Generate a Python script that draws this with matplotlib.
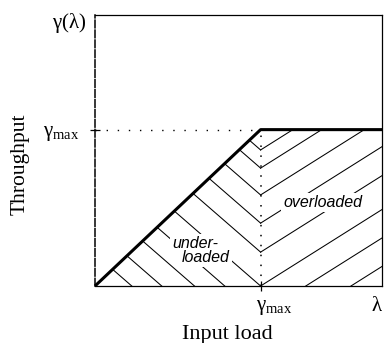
import matplotlib
matplotlib.use('Agg')
import matplotlib.pyplot as plt
from matplotlib.transforms import ScaledTranslation

plt.rcParams['font.family'] = ['Liberation Serif', 'DejaVu Serif']
plt.rcParams['mathtext.fontset'] = 'custom'
plt.rcParams['mathtext.rm'] = 'Liberation Serif'
plt.rcParams['mathtext.it'] = 'Liberation Serif'

# Saturation point of the throughput curve (same value on both axes)
gamma_max = 0.577

# Throughput vs input load
load = [0.0, gamma_max, 1.0]
throughput = [0.0, gamma_max, gamma_max]

# Hatch lines meet the gamma_max line at these heights (negative -> start on the x axis)
under_offsets = [-0.413, -0.317, -0.212, -0.115, 0.0, 0.125, 0.232, 0.336, 0.435, 0.502]
over_offsets = [-0.21, -0.105, 0.0, 0.125, 0.232, 0.336, 0.435, 0.502]
under_slope = 0.92
over_slope = 0.667

fig = plt.figure(figsize=(3.84, 3.43), dpi=100)
ax = fig.add_axes([95 / 384, 57 / 343, 287 / 384, 271 / 343])
ax.set_xlim(0, 1)
ax.set_ylim(0, 1)

# Underloaded region: "\" lines between the diagonal and the gamma_max line / x axis
for v in under_offsets:
    xs = (v + under_slope * gamma_max) / (1 + under_slope)
    if v >= 0:
        xe, ye = gamma_max, v
    else:
        xe, ye = gamma_max + v / under_slope, 0.0
    ax.plot([xs, xe], [xs, ye], color='black', lw=0.75, zorder=1)

# Overloaded region: "/" lines from the gamma_max line / x axis to the top or right edge
for v in over_offsets:
    if v >= 0:
        xs, ys = gamma_max, v
    else:
        xs, ys = gamma_max - v / over_slope, 0.0
    xe = gamma_max + (gamma_max - v) / over_slope
    if xe <= 1.0:
        ye = gamma_max
    else:
        xe, ye = 1.0, v + over_slope * (1.0 - gamma_max)
    ax.plot([xs, xe], [ys, ye], color='black', lw=0.75, zorder=1)

# Reference lines at gamma_max
ax.plot([0, gamma_max], [gamma_max, gamma_max], color='black', lw=1.0,
        ls=(0, (1, 7)), zorder=2)
ax.plot([gamma_max, gamma_max], [0, gamma_max], color='black', lw=1.1,
        ls=(0, (1, 5.5)), zorder=2)

# Throughput curve
ax.plot(load, throughput, color='black', lw=2.2, zorder=4, clip_on=False,
        solid_capstyle='butt')

box = dict(boxstyle='square,pad=0.15', facecolor='white', edgecolor='none')
ax.text(0.793, 0.2915, 'overloaded', family='Liberation Sans', style='italic',
        fontsize=11.5, ha='center', va='baseline', bbox=box, zorder=3)
ax.text(0.268, 0.140, 'under-', family='Liberation Sans', style='italic',
        fontsize=11.5, ha='left', va='baseline', bbox=box, zorder=3)
ax.text(0.303, 0.0886, 'loaded', family='Liberation Sans', style='italic',
        fontsize=11.5, ha='left', va='baseline', bbox=box, zorder=3)

# Axes frame
for side in ['top', 'right', 'bottom', 'left']:
    ax.spines[side].set_linewidth(0.9)
ax.spines['left'].set_linewidth(1.1)
ax.spines['left'].set_linestyle((0, (5, 1.5)))

gm_label = r'$\gamma_{\mathrm{max}}$'
ax.set_xticks([gamma_max], labels=[gm_label])
ax.set_yticks([gamma_max], labels=[gm_label])
ax.tick_params(direction='inout', length=7, width=0.9, labelsize=15)
ax.tick_params(axis='y', pad=8)
ax.tick_params(axis='x', pad=5)
for lbl in ax.get_xticklabels():
    lbl.set_horizontalalignment('left')
    lbl.set_transform(lbl.get_transform() + ScaledTranslation(-3 / 72, 0, fig.dpi_scale_trans))

ax.text(0.983, -0.04, r'$\lambda$', fontsize=15, ha='center', va='top')
ax.text(-0.09, 0.97, r'$\gamma(\lambda)$', fontsize=15, ha='center', va='center')

fig.text(20 / 384, 1 - 164 / 343, 'Throughput', rotation=90, fontsize=15.5,
         ha='center', va='center')
fig.text(227.5 / 384, 1 - 339 / 343, 'Input load', fontsize=16,
         ha='center', va='baseline')

fig.savefig('out.png', dpi=100)
